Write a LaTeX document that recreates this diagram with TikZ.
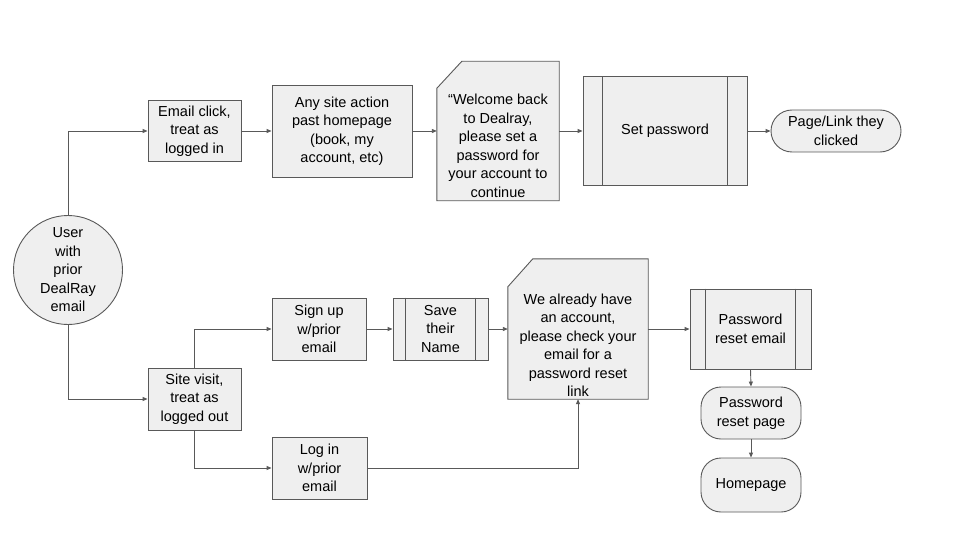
\documentclass[tikz,border=0pt]{standalone}
\usepackage{fontspec}
\setmainfont{Liberation Sans}
\usetikzlibrary{arrows.meta,calc}
\definecolor{linegray}{HTML}{595959}
\definecolor{boxgray}{HTML}{EFEFEF}
\tikzstyle{box}=[rectangle,draw=linegray,fill=boxgray,align=center,inner sep=0pt,line width=0.9pt]
\tikzstyle{pillbox}=[box,rounded corners=20pt]
\tikzstyle{roundvertex}=[circle,draw=linegray,fill=boxgray,align=center,minimum size=109pt,inner sep=0pt,line width=0.9pt]
\tikzstyle{docshape}=[draw=linegray,fill=boxgray,line width=0.9pt]
\tikzstyle{procline}=[draw=linegray,line width=0.9pt]
\tikzstyle{edge}=[draw=linegray,line width=0.9pt,-{Triangle[length=5pt,width=4pt]}]

\begin{document}
\begin{tikzpicture}[x=1pt,y=-1pt,font=\fontsize{14.5}{18.5}\selectfont]

\useasboundingbox[fill=white] (0,0) rectangle (960,540);

% start
\node[roundvertex] (user) at (68,270) {User\\with\\prior\\DealRay\\email};

% logged in row
\node[box,minimum width=93,minimum height=61] (click) at (194.5,131) {Email click,\\treat as\\logged in};
\node[box,minimum width=140,minimum height=92] (anysite) at (342,131) {Any site action\\past homepage\\(book, my\\account, etc)};
\node[minimum width=122,minimum height=139,inner sep=0pt] (welcome) at (498,131) {};
\path[docshape] ($(welcome.north west)+(25,0)$) -- (welcome.north east) -- (welcome.south east)
    -- (welcome.south west) -- ($(welcome.north west)+(0,27)$) -- cycle;
\node[align=center] (welcometext) at (498,146) {“Welcome back\\to Dealray,\\please set a\\password for\\your account to\\continue};
\node[box,minimum width=164,minimum height=109] (setpw) at (665,131) {Set password};
\node[pillbox,minimum width=130,minimum height=42,rounded corners=21pt] (pagelink) at (836,131) {Page/Link they\\clicked};

% logged out rows
\node[box,minimum width=93,minimum height=62] (visit) at (194.5,399) {Site visit,\\treat as\\logged out};
\node[box,minimum width=94,minimum height=62] (signup) at (319,329) {Sign up\\w/prior\\email};
\node[box,minimum width=95,minimum height=62] (savename) at (440.5,329) {Save\\their\\Name};
\node[minimum width=140,minimum height=140,inner sep=0pt] (already) at (578,329) {};
\path[docshape] ($(already.north west)+(25,0)$) -- (already.north east) -- (already.south east)
    -- (already.south west) -- ($(already.north west)+(0,28)$) -- cycle;
\node[align=center] (alreadytext) at (578,345) {We already have\\an account,\\please check your\\email for a\\password reset\\link};
\node[box,minimum width=121,minimum height=80] (resetmail) at (750.5,329) {Password\\reset email};
\node[pillbox,minimum width=100,minimum height=52] (resetpage) at (751,413) {Password\\reset page};
\node[pillbox,minimum width=100,minimum height=54] (homepage) at (751,485) {Homepage};
\node[box,minimum width=95,minimum height=62] (login) at (319.5,468) {Log in\\w/prior\\email};

% side bars of the process boxes
\foreach \name/\d in {setpw/20, savename/13, resetmail/16}
{
    \path[procline] ($(\name.north west)+(\d,0)$) -- ($(\name.south west)+(\d,0)$);
    \path[procline] ($(\name.north east)+(-\d,0)$) -- ($(\name.south east)+(-\d,0)$);
}

% connectors
\foreach \source/\dest in {click/anysite, anysite/welcome, welcome/setpw, setpw/pagelink, signup/savename, savename/already, already/resetmail}
    \path[edge] (\source.east) -- (\dest.west);
\path[edge] (user.north) |- (click.west);
\path[edge] (user.south) |- (visit.west);
\path[edge] (visit.north) |- (signup.west);
\path[edge] (visit.south) |- (login.west);
\path[edge] (login.east) -| (already.south);
\path[edge] (resetmail.south) -- (resetpage.north);
\path[edge] (resetpage.south) -- (homepage.north);

\end{tikzpicture}
\end{document}
